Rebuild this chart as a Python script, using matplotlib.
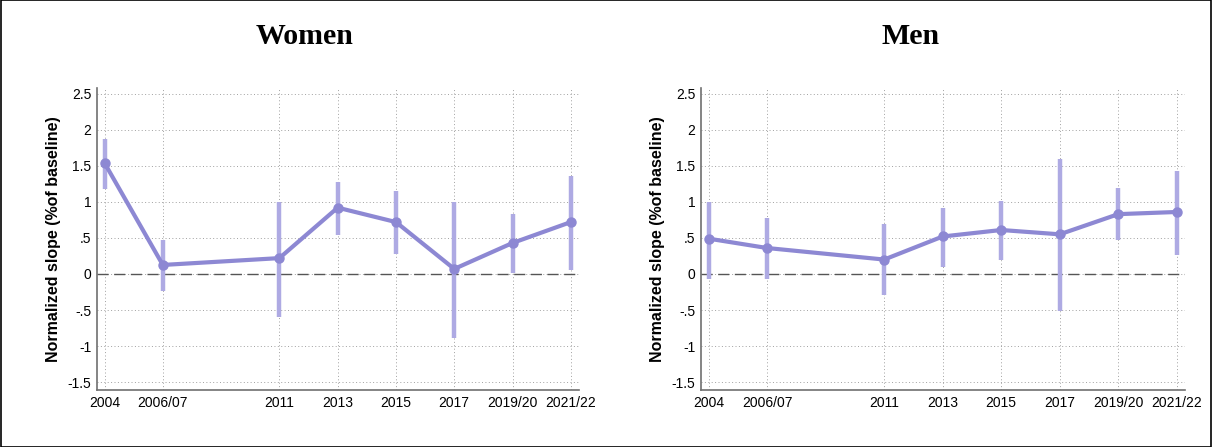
import matplotlib.pyplot as plt
from matplotlib.patches import Rectangle

# survey waves (x variable) and their labels
wave = [2, 3, 5, 6, 7, 8, 9, 10]
wave_labels = ['2004', '2006/07', '2011', '2013', '2015', '2017', '2019/20', '2021/22']

# Women: estimate and 95% CI
women_est = [1.54, 0.125, 0.22, 0.92, 0.72, 0.07, 0.43, 0.72]
women_lo = [1.18, -0.23, -0.60, 0.54, 0.28, -0.89, 0.02, 0.055]
women_hi = [1.87, 0.47, 1.00, 1.28, 1.15, 1.00, 0.83, 1.36]

# Men: estimate and 95% CI
men_est = [0.49, 0.36, 0.20, 0.52, 0.61, 0.55, 0.83, 0.86]
men_lo = [-0.07, -0.07, -0.29, 0.09, 0.19, -0.52, 0.47, 0.27]
men_hi = [1.00, 0.78, 0.69, 0.92, 1.01, 1.60, 1.19, 1.43]

yticks = [2.5, 2, 1.5, 1, 0.5, 0, -0.5, -1, -1.5]
ytick_labels = ['2.5', '2', '1.5', '1', '.5', '0', '-.5', '-1', '-1.5']

line_col = '#8d88d3'
ci_col = '#aeaae3'

plt.rcParams['font.family'] = ['Liberation Sans', 'DejaVu Sans']

fig = plt.figure(figsize=(12.12, 4.47), dpi=100)


def panel(rect, title, title_x, est, lo, hi):
    ax = fig.add_axes(rect)
    # error bars first, then the line on top
    ax.vlines(wave, lo, hi, color=ci_col, linewidth=3.2, zorder=3)
    ax.plot(wave, est, color=line_col, linewidth=3, marker='o', markersize=6.5,
            zorder=4, solid_capstyle='round')
    ax.axhline(0, color='#555555', linewidth=1, dashes=(8, 4), zorder=2)

    ax.set_xlim(wave[0] - 0.13, wave[-1] + 0.14)
    ax.set_ylim(-1.61, 2.58)
    ax.set_xticks(wave)
    ax.set_xticklabels(wave_labels, fontsize=10)
    ax.set_yticks(yticks)
    ax.set_yticklabels(ytick_labels, fontsize=10)
    ax.tick_params(axis='both', length=0, pad=4)
    ax.grid(True, color='#a0a0a0', linestyle=(0, (1, 2.5)), linewidth=0.7, zorder=1)

    for s in ['top', 'right']:
        ax.spines[s].set_visible(False)
    for s in ['left', 'bottom']:
        ax.spines[s].set_color('#707070')
        ax.spines[s].set_linewidth(1.2)

    ax.set_ylabel('Normalized slope (%of baseline)', fontsize=11.5, fontweight='bold', labelpad=5)
    fig.text(title_x, 0.918, title, ha='center', va='center', fontsize=21.5,
             fontweight='bold', family='Liberation Serif')
    return ax


panel([0.080, 0.1275, 0.3977, 0.6756], 'Women', 0.251, women_est, women_lo, women_hi)
panel([0.5784, 0.1275, 0.3993, 0.6756], 'Men', 0.751, men_est, men_lo, men_hi)

# thin black frame round the whole figure
fig.patches.append(Rectangle((0.0005, 0.001), 0.999, 0.998, transform=fig.transFigure,
                             fill=False, edgecolor='black', linewidth=1.2))

fig.savefig('out.png', dpi=100)
